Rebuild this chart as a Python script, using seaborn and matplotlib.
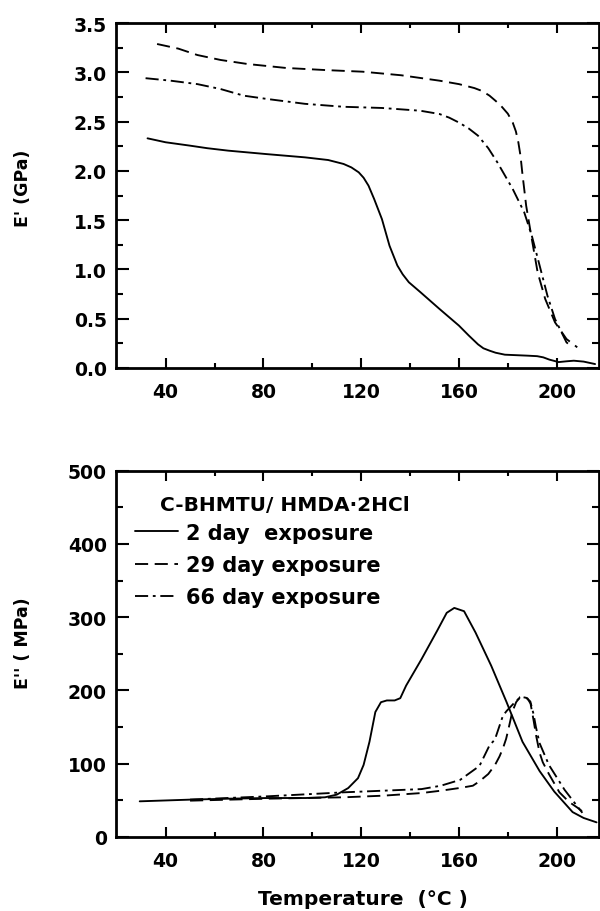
import matplotlib
matplotlib.use("Agg")
import matplotlib.pyplot as plt
from matplotlib.ticker import MultipleLocator, FixedLocator
import seaborn as sns

# ---- storage modulus E' (GPa) ----
t_e1_2d = [32.6, 40, 49.9, 57, 65.6, 81.3, 97, 106.5, 112.8, 116, 119, 121, 123, 125.3, 128.5,
           131.6, 134.8, 137, 139.5, 144.2, 152, 160, 164, 167.8, 170, 172.5, 175, 178.8,
           188.2, 192, 194.5, 197, 200.8, 204, 207, 211, 215.7]
e1_2d = [2.33, 2.29, 2.256, 2.23, 2.205, 2.17, 2.137, 2.11, 2.07, 2.035, 1.985, 1.93, 1.85,
         1.715, 1.51, 1.24, 1.04, 0.95, 0.87, 0.77, 0.6, 0.43, 0.33, 0.24, 0.2, 0.176, 0.155,
         0.135, 0.125, 0.12, 0.108, 0.085, 0.06, 0.068, 0.074, 0.065, 0.04]

t_e1_29d = [36.5, 45.2, 53, 62.5, 73.5, 89.2, 105, 120.6, 136.3, 152, 160, 166.3, 169.5,
            172.5, 175, 177.2, 180, 182, 183.3, 184.3, 185.2, 185.9, 187.5, 189.8, 192.2,
            195.3, 199.3, 204, 208.4]
e1_29d = [3.287, 3.24, 3.175, 3.125, 3.084, 3.044, 3.023, 3.006, 2.97, 2.915, 2.88, 2.84,
          2.81, 2.763, 2.71, 2.66, 2.58, 2.49, 2.4, 2.29, 2.15, 1.985, 1.647, 1.31, 0.97,
          0.70, 0.463, 0.294, 0.21]

t_e1_66d = [31.8, 42, 53, 62.5, 71.9, 81.3, 97, 112.8, 128.5, 144.2, 152, 156, 160, 164,
            167.8, 172, 175.7, 182, 186.7, 189.8, 193, 196.2, 199.3, 204, 205.6]
e1_66d = [2.94, 2.915, 2.88, 2.83, 2.763, 2.73, 2.68, 2.65, 2.638, 2.61, 2.577, 2.54, 2.49,
          2.43, 2.357, 2.23, 2.087, 1.816, 1.58, 1.343, 1.04, 0.734, 0.497, 0.26, 0.227]

# ---- loss modulus E'' (MPa) ----
t_e2_2d = [29.4, 50, 65.7, 81.5, 97.3, 105.2, 110, 114.7, 118.7, 121, 123.4, 125.8, 128.1,
           130.5, 133.7, 136, 138.4, 144.7, 151, 155, 158.1, 162.1, 166.8, 173.2, 179.5,
           186, 193, 199, 206.5, 211, 216.3]
e2_2d = [48.7, 51, 52.3, 53.2, 53.2, 54.2, 57.8, 66.8, 80.3, 98.4, 130, 170.6, 184, 186.4,
         186.4, 189.5, 206.7, 242.8, 281, 306, 312.7, 308.2, 279, 233.8, 184, 130, 90, 62,
         34, 26, 20]

t_e2_29d = [50, 81.5, 113, 129, 144.7, 152.6, 160.5, 165.7, 168.4, 172, 174.7, 176.6, 178,
            179.3, 180.3, 181.8, 183.4, 185, 186.5, 188.1, 189.3, 190.5, 191.6, 193, 194.3,
            196.8, 201.1, 205, 208.5, 212]
e2_29d = [49.6, 52.3, 54.2, 56.4, 60, 63.2, 67, 70, 76, 86, 98, 110, 121, 134, 148, 170.6,
          184, 191, 192, 189, 182, 160, 138, 115, 102, 86, 61, 48, 40, 31]

t_e2_66d = [50, 81.5, 113, 129, 144.7, 152.6, 160.5, 165.7, 168.4, 172.5, 174.7, 178,
            179.5, 182.6, 184.2, 186, 187.5, 189.2, 190.5, 191.5, 193, 196.8, 203.2, 207,
            210.5]
e2_66d = [51, 55.5, 61, 63.2, 65.4, 70, 78, 90.5, 97, 125, 133, 165.6, 172, 183, 188, 191,
          190, 185, 168, 150, 128, 98.4, 64.5, 48, 33]

x_ticks = [40, 80, 120, 160, 200]
x_minor = [60, 100, 140, 180]
legend_title = "C-BHMTU/ HMDA·2HCl"
labels = ["2 day  exposure", "29 day exposure", "66 day exposure"]
styles = ["-", (0, (7, 3.5)), (0, (7, 2.5, 1.5, 2.5))]

sns.set_theme(style="ticks")
ink = "black"
plt.rcParams.update({
    "font.family": ["DejaVu Sans"],
    "font.weight": "bold",
    "text.color": ink,
    "axes.labelcolor": ink,
    "xtick.color": ink,
    "ytick.color": ink,
})

W, H = 600, 912
fig = plt.figure(figsize=(W / 100, H / 100), dpi=100)
ax1 = fig.add_axes([116 / W, 1 - 369 / H, (599 - 116) / W, (369 - 24) / H])
ax2 = fig.add_axes([116 / W, 1 - 838 / H, (599 - 116) / W, (838 - 471.7) / H])

lw = 1.35

for t, v, ls in zip([t_e1_2d, t_e1_29d, t_e1_66d], [e1_2d, e1_29d, e1_66d], styles):
    sns.lineplot(x=t, y=v, ax=ax1, color=ink, linewidth=lw, linestyle=ls,
                 estimator=None, sort=False)

handles = []
for t, v, ls in zip([t_e2_2d, t_e2_29d, t_e2_66d], [e2_2d, e2_29d, e2_66d], styles):
    sns.lineplot(x=t, y=v, ax=ax2, color=ink, linewidth=lw, linestyle=ls,
                 estimator=None, sort=False)
    handles.append(ax2.lines[-1])

for ax in (ax1, ax2):
    ax.set_xlim(19.7, 217.3)
    ax.xaxis.set_major_locator(FixedLocator(x_ticks))
    ax.xaxis.set_minor_locator(FixedLocator(x_minor))
    for s in ax.spines.values():
        s.set_linewidth(2.0)
        s.set_color(ink)
        s.set_visible(True)
    ax.tick_params(axis="x", which="major", direction="in", top=True, length=7,
                   width=1.5, pad=10, labelsize=13.5, colors=ink)
    ax.tick_params(axis="x", which="minor", direction="in", top=True, length=3.6,
                   width=1.5)
    ax.tick_params(axis="y", which="major", direction="in", right=True, length=9,
                   width=1.5, pad=6.5, labelsize=13.5, colors=ink)
    ax.tick_params(axis="y", which="minor", direction="in", right=True, length=5,
                   width=1.5)
    for lab in ax.get_xticklabels() + ax.get_yticklabels():
        lab.set_fontweight("bold")
    ax.set_facecolor("white")

ax1.set_ylim(0, 3.5)
ax1.yaxis.set_major_locator(MultipleLocator(0.5))
ax1.yaxis.set_minor_locator(MultipleLocator(0.25))
ax1.set_ylabel("E' (GPa)", fontsize=12.5, fontweight="bold", va="center")
ax1.yaxis.set_label_coords(-0.192, 0.525)
ax1.set_xlabel("")

ax2.set_ylim(0, 500)
ax2.yaxis.set_major_locator(MultipleLocator(100))
ax2.yaxis.set_minor_locator(MultipleLocator(50))
ax2.set_ylabel("E'' ( MPa)", fontsize=12.5, fontweight="bold", va="center")
ax2.yaxis.set_label_coords(-0.192, 0.532)
ax2.set_xlabel("Temperature  (°C )", fontsize=14.5, fontweight="bold")
ax2.xaxis.set_label_coords(0.512, -0.169)
ax2.xaxis.label.set_va("center")

ax2.text(0.092, 0.907, legend_title, transform=ax2.transAxes, fontsize=14.5,
         fontweight="bold", va="center", ha="left", color=ink)
leg = ax2.legend(handles, labels, loc="upper left", bbox_to_anchor=(0.04, 0.858),
                 frameon=False, handlelength=2.07, handletextpad=0.34,
                 labelspacing=0.59, borderpad=0, borderaxespad=0,
                 prop={"weight": "bold", "size": 15})
for txt in leg.get_texts():
    txt.set_color(ink)

fig.savefig("out.png", dpi=100, facecolor="white")
